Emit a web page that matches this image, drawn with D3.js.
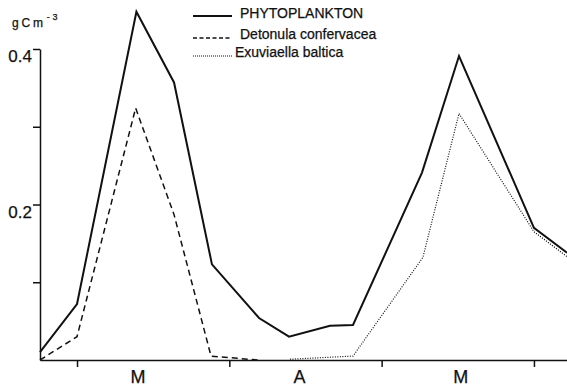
<!DOCTYPE html>
<html>
<head>
<meta charset="utf-8">
<script src="https://cdn.jsdelivr.net/npm/d3@7"></script>
<style>
  html, body { margin: 0; padding: 0; background: #fff; }
  svg { display: block; }
  text { font-family: "Liberation Sans", Arial, sans-serif; fill: #111; stroke: #111; stroke-width: 0.25px; }
</style>
</head>
<body>
<script>
// ---- Data (x in months: 0 = start of March tick, 1 = April tick, ...) ----
const phytoX   = [-0.243, 0, 0.39, 0.637, 0.886, 1.195, 1.392, 1.661, 1.812, 2.265, 2.508, 3.0, 3.217];
const phytoY   = [0.010, 0.072, 0.448, 0.357, 0.123, 0.054, 0.030, 0.044, 0.045, 0.241, 0.391, 0.170, 0.138];
const detonX   = [-0.243, 0, 0.385, 0.637, 0.88, 1.19];
const detonY   = [0.000, 0.030, 0.324, 0.187, 0.005, 0.000];
const exuvX    = [1.398, 1.812, 2.271, 2.508, 3.0, 3.217];
const exuvY    = [0.001, 0.005, 0.132, 0.317, 0.165, 0.133];
const seriesNames = ["PHYTOPLANKTON", "Detonula confervacea", "Exuviaella baltica"];
const monthTicks  = [0, 1, 2, 3];
const monthLabels = ["M", "A", "M"];
const monthLabelPos = [0.4, 1.46, 2.52];
const yTicks = [0.1, 0.2, 0.3, 0.4];
const yTickLabels = ["", "0.2", "", "0.4"];
const unitLabel = "gCm";
const unitExp = "-3";

const W = 567, H = 389;
const svg = d3.select("body").append("svg").attr("width", W).attr("height", H);

const xMin = -0.243, xMax = 3.217;
const x = d3.scaleLinear().domain([xMin, xMax]).range([40, 567]);
const y = d3.scaleLinear().domain([0, 0.4]).range([360, 49]);

// Axes
const xAxis = d3.axisBottom(x).tickValues(monthTicks).tickSize(7).tickSizeOuter(0).tickFormat("");
const gx = svg.append("g").attr("transform", `translate(0,${y(0)})`).call(xAxis);
gx.select(".domain").attr("stroke", "#111").attr("stroke-width", 1.5);
gx.selectAll(".tick line").attr("stroke", "#111").attr("stroke-width", 1.5);

const yAxis = d3.axisLeft(y).tickValues(yTicks).tickSize(7).tickSizeOuter(0).tickFormat("");
const gy = svg.append("g").attr("transform", `translate(${x(xMin)},0)`).call(yAxis);
gy.select(".domain").attr("stroke", "#111").attr("stroke-width", 1.5);
gy.selectAll(".tick line").attr("stroke", "#111").attr("stroke-width", 1.5);

// Y tick labels (top aligned with tick)
svg.selectAll(".ylab").data(yTicks).enter().append("text")
  .attr("x", 32).attr("y", d => y(d) + 13)
  .attr("text-anchor", "end").attr("font-size", 17)
  .text((d, i) => yTickLabels[i]);

// Month labels
svg.selectAll(".mlab").data(monthLabels).enter().append("text")
  .attr("x", (d, i) => x(monthLabelPos[i])).attr("y", 383)
  .attr("text-anchor", "middle").attr("font-size", 18)
  .text(d => d);

// Unit label
const ul = svg.append("text").attr("x", 12).attr("y", 27).attr("font-size", 12).attr("letter-spacing", 2.8);
ul.append("tspan").text(unitLabel);
ul.append("tspan").attr("font-size", 9).attr("dy", -7).attr("dx", 1).text(unitExp);

// Lines
const line = d3.line().x(d => x(d[0])).y(d => y(d[1]));
const series = [
  { xs: phytoX, ys: phytoY, dash: null, legDash: null, w: 2 },
  { xs: detonX, ys: detonY, dash: "6,4", legDash: "4,2.5", w: 1.5 },
  { xs: exuvX, ys: exuvY, dash: "1,1.5", legDash: "1,1", w: 1.2 }
];
series.forEach(s => {
  svg.append("path")
    .datum(s.xs.map((v, i) => [v, s.ys[i]]))
    .attr("d", line)
    .attr("fill", "none")
    .attr("stroke", "#111")
    .attr("stroke-width", s.w)
    .attr("stroke-dasharray", s.dash)
    .attr("stroke-linejoin", "miter");
});

// Legend
const legY = [16, 38, 56];
const legTextX = [240, 240, 235];
const legLineEnd = [232, 232, 233];
series.forEach((s, i) => {
  svg.append("line").attr("x1", 193).attr("x2", legLineEnd[i])
    .attr("y1", legY[i]).attr("y2", legY[i])
    .attr("stroke", "#111").attr("stroke-width", s.w)
    .attr("stroke-dasharray", s.legDash);
  svg.append("text").attr("x", legTextX[i]).attr("y", legY[i] + (i === 0 ? 2 : 1))
    .attr("font-size", 14).text(seriesNames[i]);
});
</script>
</body>
</html>
